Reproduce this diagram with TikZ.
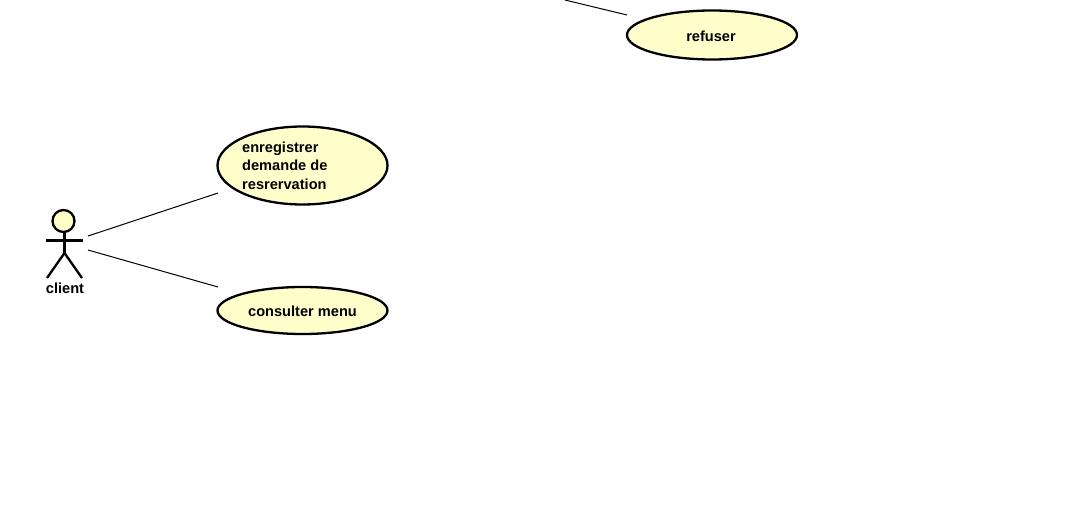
\documentclass[tikz,border=0pt]{standalone}
\usepackage{fontspec}
\setmainfont{Liberation Sans}
\usetikzlibrary{shapes.geometric}
\definecolor{ucfill}{HTML}{FFFFCC}
\tikzset{
  x=1pt,y=1pt,
  usecase/.style={draw=black,line width=2.3pt,fill=ucfill,ellipse,inner sep=0pt,outer sep=0pt},
  uctext/.style={font=\fontsize{14.6}{18.5}\selectfont\bfseries,inner sep=0pt,text=black},
  assoc/.style={draw=black,line width=1pt},
  actorline/.style={draw=black,line width=2.3pt}
}
\begin{document}
\begin{tikzpicture}
\useasboundingbox (0,0) rectangle (1083,-508);
\node[usecase,minimum width=170pt,minimum height=49pt] (refuser) at (712,-35) {};
\node[uctext] (refusertext) at (711,-36) {refuser};
\node[usecase,minimum width=170pt,minimum height=78pt] (enreg) at (302.5,-165.5) {};
\node[uctext,align=left,anchor=west] (enregtext) at (242,-165.5) {enregistrer\\demande de\\resrervation};
\node[usecase,minimum width=170pt,minimum height=47pt] (menu) at (302.5,-310.5) {};
\node[uctext] (menutext) at (302.5,-311) {consulter menu};
% actor
\node[circle,draw=black,line width=2.3pt,fill=ucfill,minimum size=22pt,inner sep=0pt] (head) at (63.5,-221) {};
\coordinate (hip) at (64.5,-253);
\coordinate (neck) at (64.5,-232);
\coordinate (armL) at (46,-240.5);
\coordinate (armR) at (83,-240.5);
\coordinate (legL) at (47,-278);
\coordinate (legR) at (82,-278);
\draw[actorline] (neck) -- (hip);
\draw[actorline] (armL) -- (armR);
\draw[actorline] (legL) -- (hip) -- (legR);
\node[uctext] (client) at (65,-288) {client};
% connectors
\coordinate (c1) at (88,-236);
\coordinate (e1) at (218,-193);
\coordinate (c2) at (88,-250);
\coordinate (e2) at (218,-287);
\coordinate (t1) at (565,0);
\coordinate (r1) at (627,-15);
\draw[assoc] (c1) -- (e1);
\draw[assoc] (c2) -- (e2);
\draw[assoc] (t1) -- (r1);
\end{tikzpicture}
\end{document}
